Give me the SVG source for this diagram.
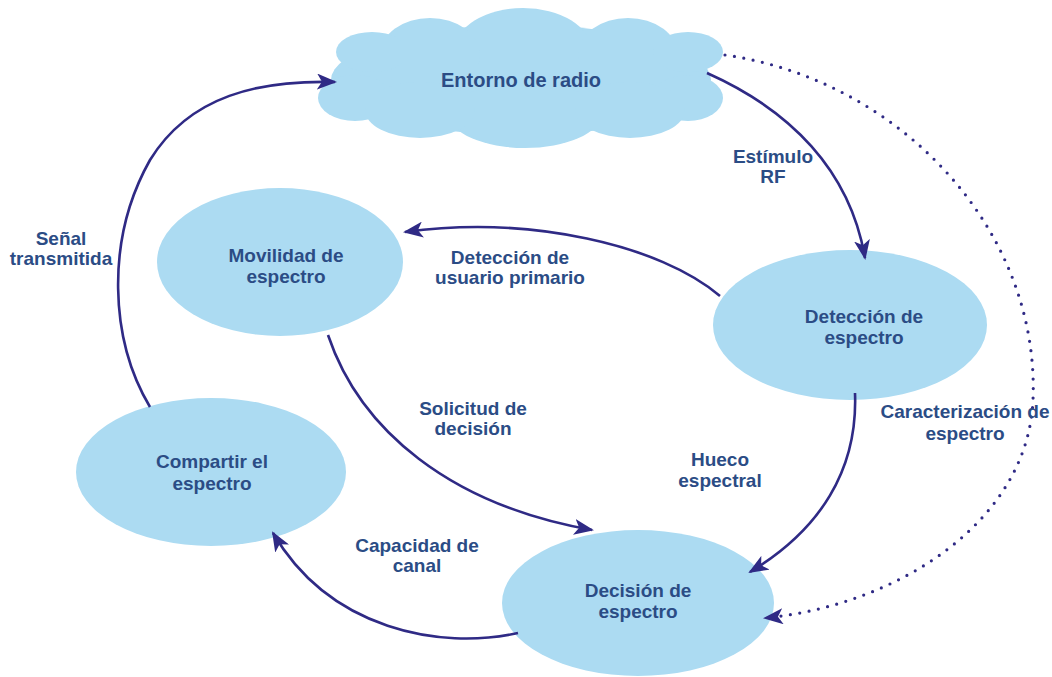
<svg xmlns="http://www.w3.org/2000/svg" width="1052" height="677" viewBox="0 0 1052 677">
<style>
.node{fill:#acdbf2;stroke:none}
.t{font-family:"Liberation Sans",Arial,sans-serif;font-weight:bold;font-size:19px;fill:#2b4c85;text-anchor:middle}
.c{fill:none;stroke:#2f2a85;stroke-width:2.6}
.dot{fill:none;stroke:#2f2a85;stroke-width:3.2;stroke-dasharray:0 9.5;stroke-linecap:round}
</style>
<defs>
<marker id="ah" markerUnits="userSpaceOnUse" markerWidth="20" markerHeight="16" viewBox="0 0 20 16" refX="18" refY="8" orient="auto">
<path d="M0,0 L20,8 L0,16 L5,8 z" fill="#2f2a85"/>
</marker>
</defs>
<rect width="1052" height="677" fill="#ffffff"/>

<g id="entorno">
<ellipse class="node" cx="521" cy="80" rx="190" ry="55"/>
<ellipse class="node" cx="523" cy="50" rx="68" ry="42"/>
<ellipse class="node" cx="430" cy="55" rx="50" ry="37"/>
<ellipse class="node" cx="628" cy="55" rx="50" ry="37"/>
<ellipse class="node" cx="372" cy="52" rx="36" ry="20"/>
<ellipse class="node" cx="355" cy="98" rx="37" ry="23"/>
<ellipse class="node" cx="688" cy="52" rx="35" ry="20"/>
<ellipse class="node" cx="688" cy="98" rx="35" ry="23"/>
<ellipse class="node" cx="525" cy="115" rx="75" ry="33"/>
<ellipse class="node" cx="420" cy="110" rx="55" ry="28"/>
<ellipse class="node" cx="630" cy="110" rx="55" ry="28"/>
<text class="t" x="521" y="87" style="font-size:20px">Entorno de radio</text>
</g>

<g id="movilidad">
<ellipse class="node" cx="280" cy="262" rx="123" ry="74"/>
<text class="t" x="286" y="262">Movilidad de</text>
<text class="t" x="286" y="283">espectro</text>
</g>

<g id="deteccion">
<ellipse class="node" cx="850" cy="325" rx="137" ry="75"/>
<text class="t" x="864" y="323">Detección de</text>
<text class="t" x="864" y="344">espectro</text>
</g>

<g id="compartir">
<ellipse class="node" cx="211" cy="472" rx="135" ry="74"/>
<text class="t" x="212" y="468">Compartir el</text>
<text class="t" x="212" y="490">espectro</text>
</g>

<g id="decision">
<ellipse class="node" cx="638" cy="603" rx="136" ry="73"/>
<text class="t" x="638" y="597">Decisión de</text>
<text class="t" x="638" y="618">espectro</text>
</g>

<g id="connectors">
<path class="c" d="M150,407 C110,340 105,240 150,160 C190,95 260,80 335,82" marker-end="url(#ah)"/>
<path class="c" d="M707,73 C790,110 850,170 865,258" marker-end="url(#ah)"/>
<path class="c" d="M720,296 C660,245 530,215 405,232" marker-end="url(#ah)"/>
<path class="c" d="M328,335 C360,430 450,505 592,530" marker-end="url(#ah)"/>
<path class="c" d="M855,393 C858,470 820,530 750,572" marker-end="url(#ah)"/>
<path class="c" d="M518,633 C440,650 330,630 273,533" marker-end="url(#ah)"/>
<path class="dot" d="M725,55 C900,80 1040,230 1033,400 C1028,520 900,605 765,618" marker-end="url(#ah)"/>
</g>

<g id="labels">
<text class="t" x="61" y="245">Señal</text>
<text class="t" x="61" y="265">transmitida</text>
<text class="t" x="773" y="163">Estímulo</text>
<text class="t" x="773" y="183">RF</text>
<text class="t" x="510" y="264">Detección de</text>
<text class="t" x="510" y="284">usuario primario</text>
<text class="t" x="473" y="415">Solicitud de</text>
<text class="t" x="473" y="435">decisión</text>
<text class="t" x="720" y="466">Hueco</text>
<text class="t" x="720" y="487">espectral</text>
<text class="t" x="965" y="418">Caracterización de</text>
<text class="t" x="965" y="440">espectro</text>
<text class="t" x="417" y="552">Capacidad de</text>
<text class="t" x="417" y="572">canal</text>
</g>
</svg>
